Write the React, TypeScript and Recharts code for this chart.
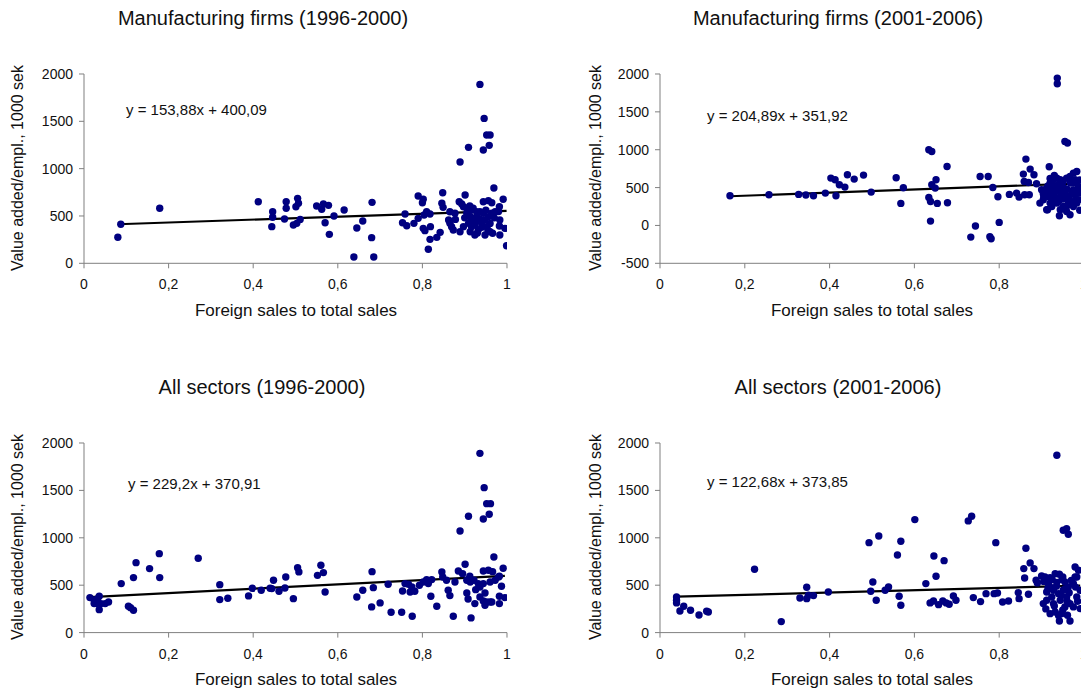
import { ScatterChart, Scatter, XAxis, YAxis, ReferenceLine } from "recharts";

const NAVY = "#000080";
const AXIS_GRAY = "#808080";
const FONT = '"Liberation Sans", Arial, sans-serif';

const X_TICKS = [0, 0.2, 0.4, 0.6, 0.8, 1];
const Y_TICKS = [0, 500, 1000, 1500, 2000];
const Y_TICKS_NEG = [-500, 0, 500, 1000, 1500, 2000];

const Y_LABEL = "Value added/empl., 1000 sek";
const X_LABEL = "Foreign sales to total sales";

// [foreign sales share, value added per employee]
const mfg9600: [number, number][] = [
  [0.08, 275], [0.087, 412], [0.179, 581], [0.412, 651], [0.444, 387], [0.446, 545], [0.446, 486],
  [0.474, 468], [0.478, 651], [0.478, 581], [0.495, 405], [0.501, 598], [0.503, 422], [0.505, 686],
  [0.507, 634], [0.511, 464], [0.55, 605], [0.562, 570], [0.566, 626], [0.578, 612], [0.57, 429],
  [0.58, 306], [0.591, 500], [0.615, 563], [0.638, 67], [0.645, 373], [0.659, 447], [0.681, 644],
  [0.68, 271], [0.685, 67], [0.753, 429], [0.759, 521], [0.763, 397], [0.78, 422], [0.79, 475],
  [0.79, 711], [0.802, 676], [0.8, 640], [0.802, 369], [0.806, 345], [0.804, 510], [0.81, 545],
  [0.818, 521], [0.818, 253], [0.814, 148], [0.819, 387], [0.834, 274], [0.842, 327], [0.846, 634],
  [0.848, 746], [0.849, 591], [0.862, 458], [0.865, 422], [0.865, 545], [0.869, 387], [0.873, 352],
  [0.877, 528], [0.878, 464], [0.887, 651], [0.889, 1070], [0.893, 627], [0.897, 598], [0.901, 722],
  [0.909, 1225], [0.912, 605], [0.936, 1890], [0.946, 1531], [0.952, 1355], [0.96, 1355],
  [0.944, 1197], [0.958, 1246], [0.969, 796], [0.991, 676], [0.944, 651], [0.956, 662], [0.964, 640],
  [0.982, 598], [0.905, 528], [0.913, 493], [0.92, 458], [0.928, 493], [0.936, 546], [0.944, 528],
  [0.909, 422], [0.916, 387], [0.924, 405], [0.932, 352], [0.94, 422], [0.948, 458], [0.952, 387],
  [0.913, 334], [0.924, 299], [0.948, 299], [0.96, 334], [0.966, 317], [0.905, 581], [0.92, 581],
  [0.889, 334], [0.897, 387], [0.928, 546], [0.956, 493], [0.964, 528], [0.972, 546], [0.98, 546],
  [0.983, 458], [0.982, 394], [0.995, 369], [0.983, 299], [0.999, 186], [0.9, 480], [0.915, 560],
  [0.925, 440], [0.935, 470], [0.94, 380], [0.95, 560], [0.96, 420], [0.97, 480], [0.93, 320],
  [0.955, 350], [0.917, 420],
];

const mfg0106: [number, number][] = [
  [0.165, 392], [0.257, 405], [0.327, 410], [0.344, 401], [0.362, 392], [0.39, 427], [0.403, 625],
  [0.413, 603], [0.415, 392], [0.423, 537], [0.436, 506], [0.442, 669], [0.458, 612], [0.48, 665],
  [0.498, 440], [0.557, 630], [0.568, 291], [0.574, 498], [0.634, 999], [0.641, 977], [0.634, 370],
  [0.638, 317], [0.638, 57], [0.641, 537], [0.649, 493], [0.651, 603], [0.654, 291], [0.677, 779],
  [0.678, 300], [0.733, -154], [0.744, -8], [0.755, 647], [0.774, 647], [0.778, -150], [0.781, -176],
  [0.785, 502], [0.797, 379], [0.8, 40], [0.824, 410], [0.841, 427], [0.847, 374], [0.86, 405],
  [0.871, 405], [0.857, 678], [0.859, 581], [0.863, 876], [0.869, 568], [0.873, 744], [0.882, 669],
  [0.888, 550], [0.914, 207], [0.918, 775], [0.937, 1946], [0.937, 1871], [0.955, 1110],
  [0.961, 1088], [0.9, 471], [0.912, 493], [0.92, 559], [0.928, 603], [0.936, 625], [0.944, 603],
  [0.951, 581], [0.959, 625], [0.967, 647], [0.975, 691], [0.983, 713], [0.979, 603], [0.987, 515],
  [0.991, 427], [0.987, 339], [0.896, 295], [0.904, 339], [0.916, 383], [0.924, 427], [0.932, 449],
  [0.94, 471], [0.947, 405], [0.955, 361], [0.963, 317], [0.971, 427], [0.979, 405], [0.912, 207],
  [0.924, 251], [0.944, 207], [0.959, 185], [0.951, 251], [0.967, 141], [0.942, 128], [0.975, 251],
  [0.928, 339], [0.936, 295], [0.92, 295], [0.983, 295], [0.904, 420], [0.916, 460], [0.94, 540],
  [0.952, 500], [0.968, 560], [0.93, 520], [0.975, 470], [0.99, 600], [0.99, 200], [0.905, 380],
  [0.91, 440], [0.915, 520], [0.925, 480], [0.93, 400], [0.935, 360], [0.94, 320], [0.945, 450],
  [0.95, 350], [0.955, 420], [0.96, 480], [0.965, 380], [0.97, 300], [0.975, 560], [0.98, 340],
  [0.985, 460], [0.96, 260], [0.945, 560], [0.92, 620], [0.93, 660],
];

const all9600: [number, number][] = [
  [0.014, 369], [0.024, 306], [0.024, 341], [0.03, 306], [0.036, 383], [0.036, 242], [0.032, 358],
  [0.04, 306], [0.05, 306], [0.058, 323], [0.088, 517], [0.105, 278], [0.11, 263], [0.117, 235],
  [0.117, 580], [0.123, 738], [0.155, 675], [0.178, 833], [0.179, 580], [0.27, 784], [0.321, 506],
  [0.321, 348], [0.34, 362], [0.389, 387], [0.398, 467], [0.419, 446], [0.44, 467], [0.444, 464],
  [0.448, 552], [0.461, 436], [0.475, 471], [0.477, 587], [0.495, 358], [0.505, 685], [0.508, 640],
  [0.552, 604], [0.56, 710], [0.566, 633], [0.57, 429], [0.645, 376], [0.659, 446], [0.68, 271],
  [0.681, 643], [0.684, 474], [0.7, 313], [0.719, 510], [0.726, 214], [0.751, 214], [0.753, 439],
  [0.759, 517], [0.767, 510], [0.771, 429], [0.775, 481], [0.776, 172], [0.782, 436], [0.793, 499],
  [0.802, 534], [0.81, 559], [0.814, 517], [0.82, 383], [0.822, 559], [0.834, 278], [0.846, 640],
  [0.848, 587], [0.857, 552], [0.861, 446], [0.865, 390], [0.873, 172], [0.877, 534], [0.885, 650],
  [0.889, 1072], [0.895, 622], [0.901, 721], [0.905, 418], [0.908, 355], [0.909, 1227], [0.912, 594],
  [0.915, 155], [0.924, 306], [0.936, 1891], [0.944, 1199], [0.944, 650], [0.946, 1529],
  [0.952, 1360], [0.956, 657], [0.958, 1248], [0.961, 1360], [0.966, 643], [0.969, 798], [0.982, 594],
  [0.987, 489], [0.982, 383], [0.982, 306], [0.991, 678], [0.995, 369], [0.926, 453], [0.936, 481],
  [0.944, 517], [0.948, 418], [0.936, 376], [0.944, 334], [0.952, 323], [0.96, 323], [0.948, 288],
  [0.964, 323], [0.905, 552], [0.913, 534], [0.922, 552], [0.932, 517], [0.96, 534], [0.972, 552],
  [0.98, 587],
];

const all0106: [number, number][] = [
  [0.039, 376], [0.039, 341], [0.039, 313], [0.047, 228], [0.056, 278], [0.072, 235], [0.092, 186],
  [0.11, 225], [0.114, 218], [0.223, 668], [0.286, 116], [0.33, 365], [0.346, 478], [0.346, 358],
  [0.35, 394], [0.362, 390], [0.397, 429], [0.493, 949], [0.497, 436], [0.502, 534], [0.51, 341],
  [0.516, 1019], [0.531, 446], [0.539, 481], [0.56, 819], [0.564, 383], [0.568, 963], [0.568, 288],
  [0.601, 1192], [0.627, 517], [0.637, 313], [0.645, 334], [0.646, 808], [0.651, 594], [0.657, 295],
  [0.667, 334], [0.67, 759], [0.675, 313], [0.682, 299], [0.692, 387], [0.698, 341], [0.727, 1178],
  [0.735, 1227], [0.739, 369], [0.756, 327], [0.769, 411], [0.788, 411], [0.792, 949], [0.796, 418],
  [0.808, 323], [0.822, 334], [0.845, 422], [0.847, 358], [0.858, 675], [0.86, 576], [0.863, 889],
  [0.869, 404], [0.873, 735], [0.882, 675], [0.887, 552], [0.89, 524], [0.936, 1870], [0.951, 1079],
  [0.959, 1097], [0.963, 1037], [0.9, 598], [0.908, 587], [0.92, 580], [0.932, 622], [0.942, 615],
  [0.95, 587], [0.955, 534], [0.92, 481], [0.912, 429], [0.928, 446], [0.94, 411], [0.951, 446],
  [0.963, 481], [0.975, 517], [0.983, 587], [0.979, 692], [0.987, 657], [0.979, 587], [0.912, 341],
  [0.928, 306], [0.944, 341], [0.959, 376], [0.967, 306], [0.904, 306], [0.92, 200], [0.932, 218],
  [0.942, 123], [0.947, 200], [0.961, 183], [0.967, 123], [0.983, 376], [0.991, 446], [0.975, 271],
  [0.955, 271], [0.924, 376], [0.991, 253], [0.936, 530], [0.948, 560], [0.916, 520], [0.905, 540],
  [0.915, 470], [0.925, 560], [0.935, 490], [0.945, 400], [0.955, 460], [0.965, 420], [0.97, 550],
  [0.98, 480], [0.93, 280], [0.95, 240], [0.96, 330], [0.985, 330], [0.91, 250], [0.94, 180],
];

// trend line: slope, intercept (from the regression text on each panel)
const TREND_MFG9600: [number, number] = [153.88, 400.09];
const TREND_MFG0106: [number, number] = [204.89, 351.92];
const TREND_ALL9600: [number, number] = [229.2, 370.91];
const TREND_ALL0106: [number, number] = [122.68, 373.85];

interface PanelProps {
  title: string;
  equation: string;
  points: [number, number][];
  trend: [number, number];
  yDomain: [number, number];
  yTicks: number[];
  plotLeft: number;
  plotTop: number;
  plotWidth: number;
  plotHeight: number;
  titleX: number;
  titleY: number;
  eqX: number;
  eqY: number;
  yLabelX: number;
  yLabelY: number;
  xLabelX: number;
  xLabelY: number;
}

const NavyDot = (props: { cx?: number; cy?: number }) => {
  if (props.cx === undefined || props.cy === undefined) return null;
  return <circle cx={props.cx} cy={props.cy} r={3.7} fill={NAVY} />;
};

const formatTick = (value: number) => String(value).replace(".", ",");

function Panel(p: PanelProps) {
  const data = p.points.map(([x, y]) => ({ x, y }));
  const xs = p.points.map(([x]) => x);
  const xMin = Math.min(...xs);
  const xMax = Math.max(...xs);
  const [slope, intercept] = p.trend;
  const chartWidth = p.plotWidth + 80;
  const chartHeight = p.plotHeight + 60;

  return (
    <>
      <div
        style={{
          position: "absolute",
          left: p.titleX - 250,
          top: p.titleY - 13,
          width: 500,
          lineHeight: "26px",
          textAlign: "center",
          fontSize: 20,
        }}
      >
        {p.title}
      </div>
      <div
        style={{
          position: "absolute",
          left: p.yLabelX - 150,
          top: p.yLabelY - 10,
          width: 300,
          lineHeight: "20px",
          textAlign: "center",
          fontSize: 16,
          transform: "rotate(-90deg)",
        }}
      >
        {Y_LABEL}
      </div>
      <div
        style={{
          position: "absolute",
          left: p.xLabelX - 150,
          top: p.xLabelY - 11,
          width: 300,
          lineHeight: "22px",
          textAlign: "center",
          fontSize: 17,
        }}
      >
        {X_LABEL}
      </div>
      <div style={{ position: "absolute", left: p.plotLeft - 60, top: p.plotTop - 20 }}>
        <ScatterChart
          width={chartWidth}
          height={chartHeight}
          margin={{ top: 20, right: 20, bottom: 0, left: 0 }}
        >
          <XAxis
            type="number"
            dataKey="x"
            domain={[0, 1]}
            ticks={X_TICKS}
            interval={0}
            height={40}
            tickSize={5}
            tickMargin={11}
            stroke={AXIS_GRAY}
            tick={{ fill: "#111", fontSize: 14, fontFamily: FONT }}
            tickFormatter={formatTick}
            allowDataOverflow
          />
          <YAxis
            type="number"
            dataKey="y"
            domain={p.yDomain}
            ticks={p.yTicks}
            interval={0}
            width={60}
            tickSize={5}
            tickMargin={6}
            stroke={AXIS_GRAY}
            tick={{ fill: "#111", fontSize: 14, fontFamily: FONT }}
            allowDataOverflow
          />
          <Scatter data={data} fill={NAVY} shape={<NavyDot />} isAnimationActive={false} />
          <ReferenceLine
            segment={[
              { x: xMin, y: slope * xMin + intercept },
              { x: xMax, y: slope * xMax + intercept },
            ]}
            stroke="#000"
            strokeWidth={2.2}
          />
        </ScatterChart>
      </div>
      <div
        style={{
          position: "absolute",
          left: p.eqX,
          top: p.eqY - 10,
          lineHeight: "20px",
          fontSize: 15,
          whiteSpace: "nowrap",
        }}
      >
        {p.equation}
      </div>
    </>
  );
}

export default function App() {
  return (
    <div
      style={{
        position: "absolute",
        left: 0,
        top: 0,
        width: 1081,
        height: 689,
        overflow: "hidden",
        background: "#fff",
        fontFamily: FONT,
        color: "#111",
      }}
    >
      <Panel
        title="Manufacturing firms (1996-2000)"
        equation="y = 153,88x + 400,09"
        points={mfg9600}
        trend={TREND_MFG9600}
        yDomain={[0, 2000]}
        yTicks={Y_TICKS}
        plotLeft={84}
        plotTop={74}
        plotWidth={423}
        plotHeight={189.3}
        titleX={263}
        titleY={18}
        eqX={126}
        eqY={110}
        yLabelX={18}
        yLabelY={168}
        xLabelX={296}
        xLabelY={311}
      />
      <Panel
        title="Manufacturing firms (2001-2006)"
        equation="y = 204,89x + 351,92"
        points={mfg0106}
        trend={TREND_MFG0106}
        yDomain={[-500, 2000]}
        yTicks={Y_TICKS_NEG}
        plotLeft={660}
        plotTop={74}
        plotWidth={424}
        plotHeight={189.3}
        titleX={838}
        titleY={18}
        eqX={707}
        eqY={116}
        yLabelX={596}
        yLabelY={168}
        xLabelX={872}
        xLabelY={311}
      />
      <Panel
        title="All sectors (1996-2000)"
        equation="y = 229,2x + 370,91"
        points={all9600}
        trend={TREND_ALL9600}
        yDomain={[0, 2000]}
        yTicks={Y_TICKS}
        plotLeft={84}
        plotTop={442.7}
        plotWidth={423}
        plotHeight={189.6}
        titleX={262}
        titleY={387}
        eqX={128}
        eqY={484}
        yLabelX={18}
        yLabelY={537}
        xLabelX={296}
        xLabelY={680}
      />
      <Panel
        title="All sectors (2001-2006)"
        equation="y = 122,68x + 373,85"
        points={all0106}
        trend={TREND_ALL0106}
        yDomain={[0, 2000]}
        yTicks={Y_TICKS}
        plotLeft={660}
        plotTop={442.7}
        plotWidth={424}
        plotHeight={189.6}
        titleX={838}
        titleY={387}
        eqX={707}
        eqY={482}
        yLabelX={596}
        yLabelY={537}
        xLabelX={872}
        xLabelY={680}
      />
    </div>
  );
}
